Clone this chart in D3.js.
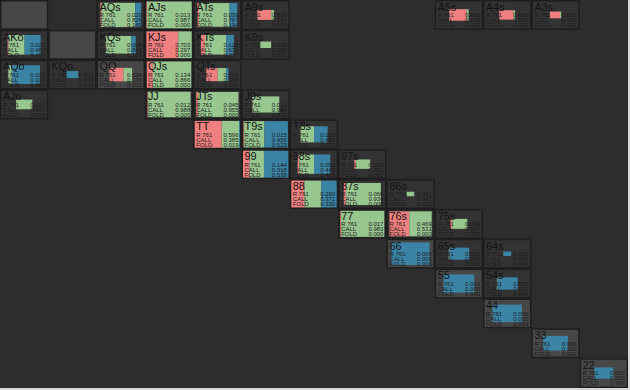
<!DOCTYPE html>
<html><head><meta charset="utf-8">
<script src="https://cdn.jsdelivr.net/npm/d3@7"></script>
<style>
html,body{margin:0;padding:0;background:#d6d6d6;overflow:hidden}
svg{display:block}
</style></head><body>
<svg id="chart"></svg>
<script>
const ranks = ["A","K","Q","J","T","9","8","7","6","5","4","3","2"];
const hands = ["AQs","AJs","ATs","A9s","A5s","A4s","A3s",
  "AKo","KQs","KJs","KTs","K9s",
  "AQo","KQo","QQ","QJs","QTs",
  "AJo","JJ","JTs","J9s",
  "TT","T9s","T8s",
  "99","98s","97s",
  "88","87s","86s",
  "77","76s","75s",
  "66","65s","64s",
  "55","54s","44","33","22"];
const raiseFreq = [0.029,0.013,0.039,0.829,0.898,0.899,0.900,
  0.027,0.004,0.703,0.128,0.008,
  0.003,0.001,0.624,0.134,0.516,
  0.010,0.012,0.045,0.016,
  0.596,0.015,0.008,
  0.144,0.051,0.109,
  0.290,0.066,0.001,
  0.017,0.469,0.093,
  0.000,0.001,0.001,
  0.000,0.001,0.000,0.000,0.000];
const callFreq = [0.826,0.987,0.767,0.169,0.100,0.099,0.098,
  0.487,0.843,0.297,0.635,0.990,
  0.107,0.000,0.376,0.866,0.378,
  0.990,0.988,0.955,0.984,
  0.385,0.456,0.493,
  0.318,0.449,0.891,
  0.371,0.934,0.947,
  0.983,0.531,0.907,
  0.000,0.036,0.036,
  0.000,0.035,0.000,0.000,0.000];
const foldFreq = [0.145,0.000,0.194,0.002,0.002,0.002,0.002,
  0.486,0.153,0.000,0.237,0.002,
  0.890,0.999,0.000,0.000,0.106,
  0.000,0.000,0.000,0.000,
  0.019,0.529,0.499,
  0.538,0.499,0.000,
  0.339,0.000,0.052,
  0.000,0.000,0.000,
  0.999,0.963,0.963,
  0.999,0.964,0.999,0.999,0.999];
const rangeWeight = [0.90,1.00,0.88,0.37,0.43,0.35,0.25,
  0.73,0.66,1.00,0.73,0.24,
  0.70,0.26,0.50,0.98,0.49,
  0.36,0.95,0.93,0.60,
  1.00,0.98,0.60,
  1.00,0.72,0.35,
  1.00,0.82,0.17,
  0.97,0.93,0.37,
  0.84,0.45,0.17,
  0.68,0.46,0.65,0.55,0.42];
const highlightedHands = ["AA","KK","QQ","66","55","44","33","22"];
const blankHands = ["AA","KK"];
const actionLabels = ["R 761","CALL","FOLD"];
const actionColors = ["#f08080","#98c68f","#3b84a6"];

const W = 628, H = 388;
const svg = d3.select("#chart").attr("width", W).attr("height", H);
svg.append("rect").attr("width", W).attr("height", H).attr("fill", "#2d2d2d");

const x = d3.scaleBand().domain(d3.range(13)).range([0, W]);
const y = d3.scaleBand().domain(d3.range(13)).range([0, H]);
const cw = x.bandwidth(), ch = y.bandwidth();

function cellPos(h) {
  const a = ranks.indexOf(h[0]), b = ranks.indexOf(h[1]);
  if (h.length === 2) return {row: a, col: a};
  if (h[2] === "s") return {row: a, col: b};
  return {row: b, col: a};
}

const cells = blankHands.map(h => Object.assign({hand: h, blank: true}, cellPos(h)))
  .concat(hands.map((h, i) => Object.assign({
    hand: h, blank: false,
    vals: [raiseFreq[i], callFreq[i], foldFreq[i]],
    w: rangeWeight[i]
  }, cellPos(h))));

const g = svg.selectAll("g.cell").data(cells).enter().append("g")
  .attr("class", "cell")
  .attr("transform", d => `translate(${x(d.col)},${y(d.row)})`);

g.append("rect")
  .attr("x", 0.75).attr("y", 0.75)
  .attr("width", cw - 1.5).attr("height", ch - 1.5)
  .attr("fill", d => highlightedHands.includes(d.hand) ? "#474747" : "#333333")
  .attr("stroke", "#1e1e1e").attr("stroke-width", 1.5);

const data = g.filter(d => !d.blank);

data.each(function(d) {
  const sel = d3.select(this);
  const iw = cw - 3, ih = ch - 3;
  const bw = iw * d.w, bh = ih * d.w;
  const bx = (cw - bw) / 2, by = (ch - bh) / 2;
  const sx = d3.scaleLinear().domain([0, 1]).range([bx, bx + bw]);
  const stack = d3.cumsum(d.vals);
  d.vals.forEach((v, k) => {
    const x0 = k === 0 ? 0 : stack[k - 1];
    sel.append("rect")
      .attr("x", sx(x0)).attr("y", by)
      .attr("width", Math.max(0, sx(x0 + v) - sx(x0))).attr("height", bh)
      .attr("fill", actionColors[k]);
  });
  sel.append("text")
    .attr("x", 3).attr("y", 10.8)
    .attr("font-family", "Liberation Sans, Arial, sans-serif")
    .attr("font-size", "10.8px").attr("fill", "#111")
    .text(d.hand);
  actionLabels.forEach((lab, k) => {
    sel.append("text")
      .attr("x", 3).attr("y", 17.3 + k * 5)
      .attr("font-family", "Liberation Sans, Arial, sans-serif")
      .attr("font-size", "6px").attr("fill", "#1a1a1a")
      .text(lab);
    sel.append("text")
      .attr("x", cw - 3).attr("y", 17.3 + k * 5)
      .attr("text-anchor", "end")
      .attr("font-family", "Liberation Sans, Arial, sans-serif")
      .attr("font-size", "6px").attr("fill", "#1a1a1a")
      .text(d3.format(".3f")(d.vals[k]));
  });
});
</script></body></html>
